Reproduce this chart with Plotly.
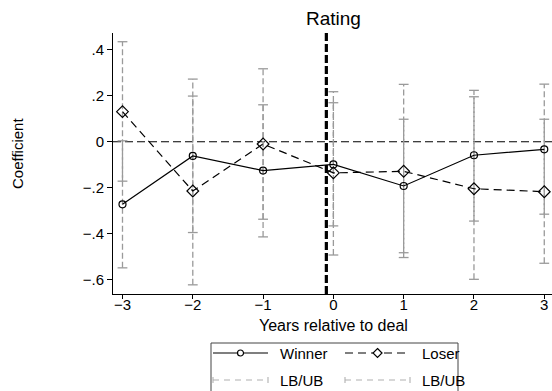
import plotly.graph_objects as go

# Event-time coefficients with confidence bounds
years = [-3, -2, -1, 0, 1, 2, 3]
year_labels = ["\u22123", "\u22122", "\u22121", "0", "1", "2", "3"]

winner_coef = [-0.273, -0.062, -0.126, -0.099, -0.193, -0.059, -0.033]
winner_lb = [-0.550, -0.396, -0.415, -0.367, -0.484, -0.346, -0.316]
winner_ub = [0.004, 0.273, 0.161, 0.170, 0.098, 0.224, 0.251]

loser_coef = [0.131, -0.215, -0.010, -0.136, -0.129, -0.205, -0.218]
loser_lb = [-0.172, -0.624, -0.338, -0.494, -0.505, -0.600, -0.530]
loser_ub = [0.436, 0.199, 0.318, 0.218, 0.250, 0.196, 0.098]

y_ticks = [0.4, 0.2, 0.0, -0.2, -0.4, -0.6]
y_tick_labels = [".4", ".2", "0", "\u2212.2", "\u2212.4", "\u2212.6"]

deal_line = -0.1

FONT = "Liberation Sans, Arial, Helvetica, sans-serif"
CI_GRAY = "#9a9a9a"

W, H = 552, 391
L, R, T, B = 113, 552, 33, 294


def px_x(p):
    return (p - L) / (R - L)


def px_y(p):
    return (B - p) / (B - T)


def ci_segments(xs, lo, hi):
    sx, sy = [], []
    for x, a, b in zip(xs, lo, hi):
        sx += [x, x, None]
        sy += [a, b, None]
    return sx, sy


fig = go.Figure()

for lo, hi in [(winner_lb, winner_ub), (loser_lb, loser_ub)]:
    sx, sy = ci_segments(years, lo, hi)
    fig.add_trace(go.Scatter(
        x=sx, y=sy, mode="lines+markers", showlegend=False,
        line=dict(color=CI_GRAY, width=1.3, dash="6px,3px"),
        marker=dict(symbol="line-ew", size=7, color=CI_GRAY,
                    line=dict(color=CI_GRAY, width=1.3)),
        hoverinfo="skip",
    ))

fig.add_trace(go.Scatter(
    x=years, y=winner_coef, mode="lines+markers", name="Winner",
    showlegend=False,
    line=dict(color="black", width=1.2),
    marker=dict(symbol="circle-open", size=7, color="black",
                line=dict(color="black", width=1.2)),
))
fig.add_trace(go.Scatter(
    x=years, y=loser_coef, mode="lines+markers", name="Loser",
    showlegend=False,
    line=dict(color="black", width=1.2, dash="8px,5px"),
    marker=dict(symbol="diamond-open", size=9, color="black",
                line=dict(color="black", width=1.2)),
))

shapes = [
    # reference line at zero
    dict(type="line", xref="paper", yref="y", x0=0, x1=1, y0=0, y1=0,
         line=dict(color="black", width=1.1, dash="8px,4px"), layer="below"),
    # deal date
    dict(type="line", xref="x", yref="paper", x0=deal_line, x1=deal_line,
         y0=0, y1=1, line=dict(color="black", width=3.2, dash="8px,3px")),
]

# legend box
lx0, lx1, ly0, ly1 = 211, 458, 343, 400
shapes.append(dict(type="rect", xref="paper", yref="paper",
                   x0=px_x(lx0), x1=px_x(lx1), y0=px_y(ly1), y1=px_y(ly0),
                   line=dict(color="#444444", width=1), fillcolor="white"))

row1, row2 = 353, 380
cols = [(213, 268, 278), (345, 410, 420)]

# Winner / Loser symbols
(a0, a1, at), (b0, b1, bt) = cols
shapes.append(dict(type="line", xref="paper", yref="paper",
                   x0=px_x(a0), x1=px_x(a1), y0=px_y(row1), y1=px_y(row1),
                   line=dict(color="black", width=1.2)))
shapes.append(dict(type="circle", xref="paper", yref="paper",
                   xsizemode="pixel", ysizemode="pixel",
                   xanchor=px_x((a0 + a1) / 2), yanchor=px_y(row1),
                   x0=-3, x1=3, y0=-3, y1=3,
                   line=dict(color="black", width=1.2), fillcolor="white"))
shapes.append(dict(type="line", xref="paper", yref="paper",
                   x0=px_x(b0), x1=px_x(b1), y0=px_y(row1), y1=px_y(row1),
                   line=dict(color="black", width=1.2, dash="8px,5px")))
shapes.append(dict(type="path", xref="paper", yref="paper",
                   xsizemode="pixel", ysizemode="pixel",
                   xanchor=px_x((b0 + b1) / 2), yanchor=px_y(row1),
                   path="M 0 4.5 L 4.5 0 L 0 -4.5 L -4.5 0 Z",
                   line=dict(color="black", width=1.2), fillcolor="white"))

# LB/UB symbols with end caps
for c0, c1, _ in cols:
    shapes.append(dict(type="line", xref="paper", yref="paper",
                       x0=px_x(c0), x1=px_x(c1), y0=px_y(row2), y1=px_y(row2),
                       line=dict(color="#b0b0b0", width=1.1, dash="6px,5px")))
    for cx in (c0, c1):
        shapes.append(dict(type="line", xref="paper", yref="paper",
                           x0=px_x(cx), x1=px_x(cx),
                           y0=px_y(row2 - 3), y1=px_y(row2 + 3),
                           line=dict(color="#b0b0b0", width=1.1)))

annotations = [
    dict(text="Rating", xref="paper", yref="paper", x=px_x(333), y=px_y(18.5),
         xanchor="center", yanchor="middle", showarrow=False,
         font=dict(size=19, color="black", family=FONT)),
    dict(text="Years relative to deal", xref="paper", yref="paper",
         x=px_x(333.5), y=px_y(325), xanchor="center", yanchor="middle",
         showarrow=False, font=dict(size=16, color="black", family=FONT)),
    dict(text="Coefficient", xref="paper", yref="paper", x=px_x(17),
         y=px_y(154), xanchor="center", yanchor="middle", textangle=-90,
         showarrow=False, font=dict(size=15, color="black", family=FONT)),
]
for label, tx, ty in [("Winner", at, row1), ("Loser", bt, row1),
                      ("LB/UB", at, row2), ("LB/UB", bt, row2)]:
    annotations.append(dict(text=label, xref="paper", yref="paper",
                            x=px_x(tx), y=px_y(ty), xanchor="left",
                            yanchor="middle", showarrow=False,
                            font=dict(size=15, color="black", family=FONT)))

fig.update_layout(
    width=W, height=H,
    margin=dict(l=L, r=W - R, t=T, b=H - B, pad=0),
    paper_bgcolor="white", plot_bgcolor="white",
    font=dict(family=FONT, color="black", size=15),
    showlegend=False,
    shapes=shapes,
    annotations=annotations,
    xaxis=dict(
        range=[-3.135, 3.110], tickvals=years, ticktext=year_labels,
        showgrid=False, zeroline=False, showline=True, linecolor="black",
        linewidth=1, ticks="outside", ticklen=4, tickcolor="black",
        ticklabelstandoff=-7,
        tickfont=dict(size=15, family=FONT), fixedrange=True,
    ),
    yaxis=dict(
        range=[-0.664, 0.474], tickvals=y_ticks, ticktext=y_tick_labels,
        showgrid=False, zeroline=False, showline=True, linecolor="black",
        linewidth=1, ticks="outside", ticklen=5, tickcolor="black",
        tickfont=dict(size=15, family=FONT), fixedrange=True,
    ),
)

fig.write_html("out.html")
